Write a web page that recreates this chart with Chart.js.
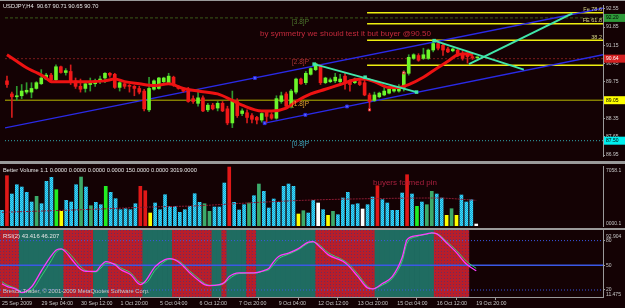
<!DOCTYPE html>
<html>
<head>
<meta charset="utf-8">
<script src="https://cdn.jsdelivr.net/npm/chart.js@4.4.1/dist/chart.umd.min.js"></script>
<style>
  html, body { margin: 0; padding: 0; background: #140204; }
  #wrap { position: relative; width: 625px; height: 308px; overflow: hidden; background: #140204; }
  canvas { position: absolute; left: 0; }
  #cMain { top: 0; }
  #cVol { top: 164px; }
  #cRsi { top: 230px; }
  .sep { position: absolute; left: 0; width: 625px; background: #9a9a9a; }
</style>
</head>
<body>
<div id="wrap">
  <canvas id="cMain" width="625" height="161"></canvas>
  <div class="sep" style="top:0;height:1px"></div>
  <div class="sep" style="top:161px;height:3px"></div>
  <canvas id="cVol" width="625" height="64"></canvas>
  <div class="sep" style="top:228px;height:2px"></div>
  <canvas id="cRsi" width="625" height="78"></canvas>
</div>
<script>
// H4 candles, 25 Sep 2009 20:00 .. 19 Oct 2009 20:00
const opens = [89.79,89.29,89.18,89.22,89.36,89.36,89.50,89.68,89.86,90.01,
  89.83,90.33,90.11,90.15,89.79,89.58,89.50,89.65,89.68,89.76,
  89.90,90.08,90.04,89.54,89.68,89.61,89.58,89.50,89.40,88.68,
  89.47,89.50,89.76,89.72,89.93,89.58,89.50,89.47,89.11,88.93,
  89.14,88.68,88.86,88.75,88.93,88.72,88.18,89.00,88.54,88.57,
  88.46,88.39,88.29,88.61,88.50,88.36,89.00,89.29,88.82,89.36,
  89.86,89.72,90.04,90.22,90.36,89.72,89.76,89.79,89.76,89.97,
  89.76,89.72,89.76,89.72,89.25,89.04,89.18,89.25,89.32,89.40,
  89.40,89.54,90.08,90.65,90.76,90.65,90.65,90.97,91.22,91.15,
  91.01,90.94,90.97,90.83,90.83,90.72,90.67];
const highs = [89.97,89.36,89.58,89.65,89.72,89.72,89.76,90.22,90.08,90.08,
  90.40,90.36,90.26,90.40,89.90,89.86,89.76,89.90,89.86,89.97,
  90.11,90.11,90.08,89.76,89.72,89.65,89.61,89.58,89.47,89.93,
  89.83,89.93,89.93,90.08,89.97,89.61,89.54,89.54,89.22,89.47,
  89.22,88.93,88.93,89.00,89.00,88.82,89.40,89.11,88.72,88.68,
  88.54,88.43,88.57,88.64,88.57,89.22,89.36,89.36,89.47,89.90,
  89.90,90.15,90.29,90.47,90.40,89.93,89.90,90.08,90.04,90.08,
  89.83,89.90,89.83,89.83,89.32,89.36,89.36,89.54,89.50,89.58,
  89.65,90.18,90.79,90.83,90.83,91.04,91.01,91.33,91.26,91.19,
  91.08,91.04,91.01,90.94,90.90,90.83,90.71];
const lows = [89.54,88.39,89.04,89.11,89.29,89.14,89.47,89.65,89.83,89.72,
  89.79,90.08,90.01,89.65,89.50,89.36,89.36,89.40,89.58,89.68,
  89.72,89.93,89.50,89.40,89.50,89.36,89.22,89.29,88.64,88.61,
  89.43,89.47,89.72,89.65,89.58,89.47,89.36,88.97,88.93,88.82,
  88.61,88.61,88.68,88.64,88.61,88.11,88.00,88.39,88.46,88.18,
  88.18,88.14,88.21,88.21,88.32,88.32,88.93,88.75,88.75,89.29,
  89.65,89.65,90.01,90.18,89.65,89.68,89.72,89.72,89.72,89.47,
  89.40,89.68,89.61,89.22,88.72,89.00,89.14,89.22,89.29,89.36,
  89.36,89.40,90.01,90.61,90.54,90.61,90.61,90.90,90.97,90.76,
  90.87,90.90,90.72,90.58,90.47,90.61,90.65];
const closes = [89.65,89.18,89.22,89.40,89.43,89.50,89.72,89.90,90.01,89.83,
  90.33,90.11,90.18,89.72,89.58,89.47,89.68,89.76,89.79,89.86,
  90.08,90.01,89.54,89.72,89.58,89.58,89.50,89.36,88.72,89.50,
  89.79,89.90,89.90,89.97,89.65,89.50,89.40,89.00,89.00,89.14,
  88.64,88.86,88.72,88.93,88.64,88.18,89.04,88.46,88.64,88.39,
  88.32,88.29,88.54,88.43,88.36,89.11,89.22,88.82,89.40,89.86,
  89.68,90.08,90.26,90.45,89.72,89.90,89.83,89.93,89.86,89.76,
  89.65,89.86,89.65,89.25,89.00,89.25,89.32,89.40,89.47,89.54,
  89.58,90.11,90.69,90.79,90.58,90.79,90.97,91.22,91.04,90.97,
  90.90,91.01,90.79,90.65,90.72,90.67,90.70];

const maIdx = [0,2,4,6,8,9,13,17,20,22,24,27,30,33,36,39,43,46,48,52,54,57,59,62,65,68,71,73,75,78,80,82,85,87,90,92,94,95];
const maVals = [90.79,90.54,90.29,90.11,89.90,89.76,89.76,89.76,89.79,89.86,89.76,89.68,89.61,89.68,89.50,89.40,89.29,89.04,88.86,88.64,
  88.64,88.75,89.00,89.29,89.47,89.65,89.83,89.86,89.76,89.54,89.54,89.65,89.93,90.18,90.54,90.79,90.83,90.79];

const priceTicks = [92.55,91.85,91.15,90.45,89.75,89.05,88.35,87.65,86.95];
const levelVals = [92.20,90.64,89.05,87.50];
const pivotTags = ['[3.8]P','[2.8]P','[1.8]P','[0.8]P'];
const fibVals = [92.40,91.98,91.34,90.39];
const fibTags = ['Fe 78.6','FE 61.8','38.2',''];
const fibStart = 73.5;
const channelUpper = [[-0.405,87.99],[121.66,92.57]];
const channelLower = [[52.6,88.17],[121.66,90.79]];
const channelDots = [[50.6,89.90],[52.6,88.17],[60.9,88.49],[69.4,88.81]];
const trendA = [[62.7,90.43],[83.6,89.36]];
const trendB = [[87.2,91.33],[105.5,90.22]];
const trendC = [[94.3,90.43],[115.4,92.37]];
const trendDots = [[62.7,90.43],[73.1,89.93],[83.6,89.36],[87.2,91.33]];
const arrowDots = [[74,88.68],[81,90.10]];
const noteText = 'by symmetry we should test it but buyer @90.50';

const volumes = [1846,5915,3763,4857,4586,3963,2822,3493,2622,5257,
  5727,4269,1729,3022,2822,4857,5762,4586,2387,2787,
  2505,4669,3963,3210,1917,2034,1917,2622,4669,4151,
  1529,2705,1917,3681,2317,2317,1611,1917,2317,3798,
  2787,2622,1729,2234,2234,5057,6938,2787,1882,2505,
  2705,3563,4939,4081,2117,3175,2787,4669,4939,4669,
  1411,1799,1529,3022,2705,1917,1258,1729,1329,3293,
  3963,2505,2622,1999,2505,3410,4739,3093,2705,1846,
  1846,3881,6033,3763,2317,2822,2505,4081,3763,3293,
  1258,2034,1258,3646,2822,3093,235];
const volKinds = ('crcccccgcc' + 'clycccgcgc' + 'clccccccrr' + 'yccccccccc' + 'cggcccrccc' +
  'gcgccccccc' + 'ygccwcygcc' + 'cccwccrccc' + 'ccrclcggcc' + 'ygycccw').split('');
const volMaIdx = [0,10,20,30,40,47,61,74,88,96];
const volMaVals = [1611,1799,1999,2234,2387,2622,3022,3210,3293,3019];

const rsiIdx = [0,1,3,4,6,8,10,11,12,13,14,16,17,19,20,21,23,24,26,28,29,31,33,34,36,38,40,41,42,44,
  45,46,48,51,53,54,55,56,58,60,62,63,64,66,69,70,72,74,75,77,79,81,82,84,86,87,88,90,92,94,96];
const rsiMain = [27.4,24.5,20.5,16.8,24,43.6,61.8,68.5,70,65.4,58,44.8,42.7,42.7,49.6,54.5,50.2,44.8,38.7,26.5,
  30.6,48.4,56.9,58.1,52.9,40.8,30.6,26.5,25.3,26.5,29,36.3,40.8,40.8,43.6,46,54.5,60.6,64.8,70.3,
  78.2,78.8,74.5,63,54.9,50.2,36.6,22.5,21.3,27.8,36.3,59.4,81.2,86.1,88.2,89.4,88.2,77.2,65.4,51.5,43.4];
const rsiSignal = [30,26,21.5,17.5,20,37,56,66,69.5,68,62,48,43.5,42,46.5,52.5,51.5,47,41,29,
  28.5,44,55,57.5,54.5,43,33,28,25.8,26,28,33.5,40,40.5,43,44.5,51,58,63.5,69,
  77,78.5,76,65.5,56.5,52.5,39.5,24.5,21.5,26,34,55,77,85,87.8,89,88.6,79,68,55,46.2];
const rsiLevels = [80,50,20];
const rsiBands = ('rrrr' + 'ttttttttt' + 'rrrrrr' + 'ttt' + 'rrrrrrr' + 'tttttt' + 'rrrrrrrr' + 'tt' + 'r' +
  'tttt' + 'rr' + 'tttttttttttt' + 'rrrrrrrrrrrr' + 'tttttttttttt' + 'rrrrrrr' + '--').split('');

const timeIdx = [0,8,16,24,32,40,48,56,64,72,80,88,96];
const timeLabels = ['25 Sep 2009','29 Sep 04:00','30 Sep 12:00','1 Oct 20:00','5 Oct 04:00','6 Oct 12:00',
  '7 Oct 20:00','9 Oct 04:00','12 Oct 12:00','13 Oct 20:00','15 Oct 04:00','16 Oct 12:00','19 Oct 20:00'];

const xMin = -0.405, xMax = 121.66;
const FONT = "'Liberation Sans', Arial, sans-serif";
Chart.defaults.font.family = FONT;
Chart.defaults.color = '#c8c8c8';

function pts(pairs) { return pairs.map(p => ({ x: p[0], y: p[1] })); }
function put(ctx, txt, x, y, color, size, align) {
  ctx.save();
  ctx.font = size + 'px ' + FONT;
  ctx.fillStyle = color;
  ctx.textAlign = align || 'left';
  ctx.textBaseline = 'middle';
  ctx.fillText(txt, x, y);
  ctx.restore();
}
// small repeating tile: base colour with a dot (or a checker) of a second colour
function makePattern(base, dot, size, checker) {
  const c = document.createElement('canvas');
  c.width = size; c.height = size;
  const g = c.getContext('2d');
  g.fillStyle = base; g.fillRect(0, 0, size, size);
  g.fillStyle = dot; g.fillRect(0, 0, 1, 1);
  if (checker) g.fillRect(1, 1, 1, 1);
  return g.createPattern(c, 'repeat');
}
function hline(v, from, color, width, dash, order) {
  return { type: 'line', data: [{ x: from, y: v }, { x: xMax, y: v }], borderColor: color,
    borderWidth: width, borderDash: dash, pointRadius: 0, order: order };
}
const baseOpts = {
  responsive: false, animation: false, devicePixelRatio: 1,
  plugins: { legend: { display: false }, tooltip: { enabled: false } }
};
const fitRight = s => { s.width = 22; s.paddingTop = 0; s.paddingBottom = 0; };

// ---------- price panel ----------
const idx = opens.map((_, i) => i);
const bull = idx.map(i => closes[i] >= opens[i]);
const levelLook = [
  { c: '#3a5a1a', d: [3, 2], w: 1, tag: '#4f7a2f', box: '#2f9a3a', txt: '#000' },
  { c: '#7a1c1c', d: [2, 2], w: 1, tag: '#b03838', box: '#d42020', txt: '#fff' },
  { c: '#b8b800', d: [], w: 1, tag: '#e0a030', box: '#ffff00', txt: '#000' },
  { c: '#30a8b0', d: [1, 2], w: 1, tag: '#40a8c0', box: '#00f0f0', txt: '#000' }
];

new Chart(document.getElementById('cMain'), {
  type: 'bar',
  data: { datasets: [
    ...levelVals.map((v, k) => hline(v, xMin, levelLook[k].c, levelLook[k].w, levelLook[k].d, 30)),
    ...fibVals.map(v => hline(v, fibStart, '#eeee10', 1.5, [], 29)),
    { type: 'line', data: pts(channelUpper), borderColor: '#2a2ae6', borderWidth: 1.3, pointRadius: 0, order: 20 },
    { type: 'line', data: pts(channelLower), borderColor: '#2a2ae6', borderWidth: 1.3, pointRadius: 0, order: 20 },
    { type: 'line', data: pts(channelDots), showLine: false, pointStyle: 'rect', pointRadius: 2,
      backgroundColor: '#5a6aff', borderColor: '#2a2ae6', borderWidth: 1, order: 19 },
    { data: idx.map(i => ({ x: i, y: [lows[i], highs[i]] })), grouped: false, barThickness: 1,
      backgroundColor: idx.map(i => bull[i] ? '#2f9a2f' : '#d41c1c'), order: 12 },
    { data: idx.map(i => ({ x: i, y: [opens[i], closes[i]] })), grouped: false, barThickness: 3, minBarLength: 1,
      backgroundColor: idx.map(i => bull[i] ? '#6cf52a' : '#f01818'), order: 11 },
    { type: 'line', data: maIdx.map((x, k) => ({ x: x, y: maVals[k] })), borderColor: '#ee1212', borderWidth: 3,
      pointRadius: 0, cubicInterpolationMode: 'monotone', order: 8 },
    ...[trendA, trendB, trendC].map(t => ({ type: 'line', data: pts(t), borderColor: '#40e6aa', borderWidth: 2,
      pointRadius: 0, order: 6 })),
    { type: 'line', data: pts(trendDots), showLine: false, pointStyle: 'rect', pointRadius: 2.5,
      backgroundColor: '#40e6aa', borderWidth: 0, order: 5 },
    { type: 'line', data: pts(arrowDots), showLine: false, pointStyle: 'rect', pointRadius: 1.5,
      backgroundColor: '#ffffff', borderColor: '#e02020', borderWidth: 1, order: 4 }
  ] },
  options: Object.assign({}, baseOpts, {
    scales: {
      x: { type: 'linear', min: xMin, max: xMax, display: false, offset: false },
      y: { position: 'right', min: 86.914, max: 92.694, beginAtZero: false,
        afterBuildTicks: s => { s.ticks = priceTicks.map(v => ({ value: v })); },
        afterFit: fitRight,
        ticks: { color: '#c8c8c8', font: { size: 5 }, padding: 1, callback: v => v.toFixed(2) },
        grid: { drawOnChartArea: false, tickLength: 2, color: '#9a9a9a' },
        border: { display: true, color: '#9a9a9a' } }
    }
  }),
  plugins: [{ id: 'mainText', afterDraw(chart) {
    const ctx = chart.ctx, ys = chart.scales.y;
    const last = opens.length - 1;
    put(ctx, 'USDJPY,H4  ' + [opens[last], highs[last], lows[last], closes[last]].map(v => v.toFixed(2)).join(' '),
      3, 6, '#e6e6e6', 5.7);
    levelVals.forEach((v, k) => {
      const y = ys.getPixelForValue(v);
      put(ctx, pivotTags[k], 292, y + 4, levelLook[k].tag, 6.5);
      ctx.fillStyle = levelLook[k].box;
      ctx.fillRect(604, y - 4, 21, 8);
      put(ctx, v.toFixed(2), 606, y, levelLook[k].txt, 5);
    });
    fibVals.forEach((v, k) => {
      if (fibTags[k]) put(ctx, fibTags[k], 602, ys.getPixelForValue(v) - 3.3, '#d4d488', 5.5, 'right');
    });
    put(ctx, noteText, 260, 34, '#c42a3c', 8);
  } }]
});

// ---------- volume panel ----------
const cyanPat = makePattern('#1c9ce0', '#3ae6f0', 2, true);
const volFill = { c: cyanPat, g: '#3caa6a', l: '#22ee22', r: '#e01818', y: '#ffff00', w: '#ffffff' };

new Chart(document.getElementById('cVol'), {
  type: 'bar',
  data: { datasets: [
    { type: 'line', data: volMaIdx.map((x, k) => ({ x: x, y: volMaVals[k] })), borderColor: '#8e1c34',
      borderWidth: 1, borderDash: [2, 1], pointRadius: 0, cubicInterpolationMode: 'monotone', order: 1 },
    { data: idx.map(i => ({ x: i, y: volumes[i] })), grouped: false, barThickness: 3,
      backgroundColor: idx.map(i => volFill[volKinds[i]]), order: 2 }
  ] },
  options: Object.assign({}, baseOpts, {
    layout: { padding: { top: 2, bottom: 2 } },
    scales: {
      x: { type: 'linear', min: xMin, max: xMax, display: false, offset: false },
      y: { position: 'right', min: 0, max: 7058.1, afterFit: fitRight,
        ticks: { display: false }, grid: { display: false },
        border: { display: true, color: '#9a9a9a' } }
    }
  }),
  plugins: [{ id: 'volText', afterDraw(chart) {
    const ctx = chart.ctx;
    put(ctx, 'Better Volume 1.1 0.0000 0.0000 0.0000 0.0000 150.0000 0.0000 3019.0000', 3, 6, '#e6e6e6', 5.7);
    put(ctx, 'buyers formed pin', 373, 19, '#a8203e', 8);
    put(ctx, '7058.1', 606, 7, '#c8c8c8', 5);
    put(ctx, '0000.1', 606, 60, '#c8c8c8', 5);
  } }]
});

// ---------- RSI panel ----------
const redPat = makePattern('#b81e2a', '#6a2c62', 3, false);
const bandFill = { r: redPat, t: '#1f6c61' };
const bandIdx = idx.filter(i => rsiBands[i] !== '-');

new Chart(document.getElementById('cRsi'), {
  type: 'bar',
  data: { datasets: [
    { data: bandIdx.map(i => ({ x: i, y: [11.475, 92.904] })), grouped: false, barThickness: 5,
      backgroundColor: bandIdx.map(i => bandFill[rsiBands[i]]), order: 20 },
    ...rsiLevels.map(v => hline(v, xMin, '#3a58e6', v === 50 ? 1.5 : 1, v === 50 ? [] : [1, 2], 10)),
    { type: 'line', data: rsiIdx.map((x, k) => ({ x: x, y: rsiSignal[k] })), borderColor: '#36d070',
      borderWidth: 1, pointRadius: 0, cubicInterpolationMode: 'monotone', order: 3 },
    { type: 'line', data: rsiIdx.map((x, k) => ({ x: x, y: rsiMain[k] })), borderColor: '#ff3cff',
      borderWidth: 1.3, pointRadius: 0, cubicInterpolationMode: 'monotone', order: 2 }
  ] },
  options: Object.assign({}, baseOpts, {
    scales: {
      x: { type: 'linear', min: xMin, max: xMax, offset: false,
        afterBuildTicks: s => { s.ticks = timeIdx.map(v => ({ value: v })); },
        afterFit: s => { s.height = 11; s.paddingLeft = 0; s.paddingRight = 0; },
        ticks: { autoSkip: false, maxRotation: 0, align: 'start', padding: 0, color: '#c8c8c8',
          font: { size: 5.3 }, callback: (v, k) => timeLabels[k] },
        grid: { drawOnChartArea: false, tickLength: 3, color: '#9a9a9a' },
        border: { display: true, color: '#9a9a9a' } },
      y: { position: 'right', min: 11.475, max: 92.904, beginAtZero: false,
        afterBuildTicks: s => { s.ticks = rsiLevels.map(v => ({ value: v })); },
        afterFit: fitRight,
        ticks: { color: '#c8c8c8', font: { size: 5 }, padding: 1 },
        grid: { drawOnChartArea: false, tickLength: 2, color: '#9a9a9a' },
        border: { display: true, color: '#9a9a9a' } }
    }
  }),
  plugins: [{ id: 'rsiText', afterDraw(chart) {
    const ctx = chart.ctx;
    put(ctx, 'RSI(2) 43.416 46.207', 3, 6, '#e6e6e6', 5.9);
    put(ctx, 'Bresco Trader, \u00a9 2001-2009 MetaQuotes Software Corp.', 3, 61, '#c8c8c8', 5.8);
    put(ctx, '92.904', 606, 6.5, '#c8c8c8', 5);
    put(ctx, '11.475', 606, 64.5, '#c8c8c8', 5);
  } }]
});
</script>
</body>
</html>
